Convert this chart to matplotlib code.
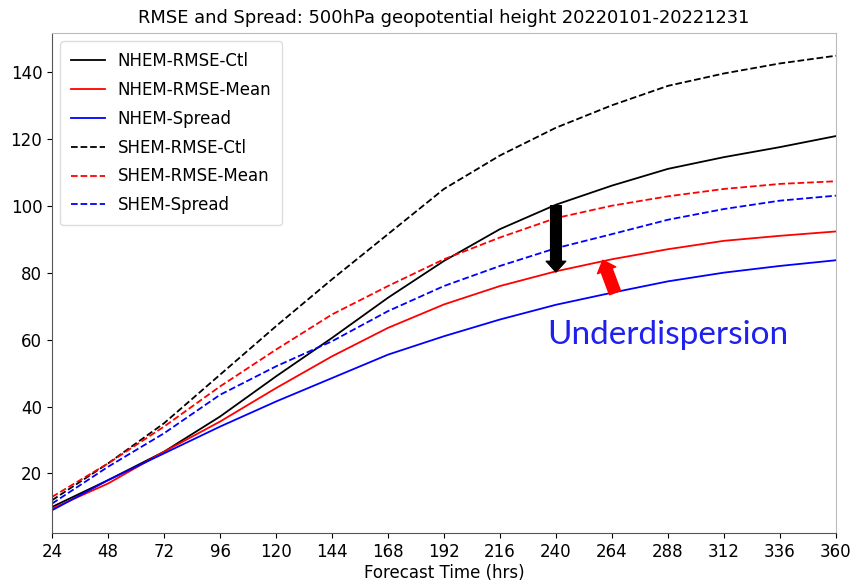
import matplotlib
matplotlib.use("Agg")
import matplotlib.pyplot as plt

# forecast lead times (hours)
hours = [24, 48, 72, 96, 120, 144, 168, 192, 216, 240, 264, 288, 312, 336, 360]

# northern hemisphere
nhem_rmse_ctl = [10, 18, 26.5, 37, 49, 60.5, 72.5, 83.5, 93, 100.3, 106, 111, 114.5, 117.5, 120.8]
nhem_rmse_mean = [9.5, 17, 26.5, 35.5, 45.5, 55, 63.5, 70.5, 76, 80.4, 84, 87, 89.5, 91, 92.3]
nhem_spread = [9, 18, 26, 34, 41.5, 48.5, 55.5, 61, 66, 70.4, 74, 77.4, 80, 82, 83.7]

# southern hemisphere
shem_rmse_ctl = [12, 23, 35, 49.5, 64, 78, 91.5, 105, 115, 123.3, 130, 135.8, 139.5, 142.5, 144.8]
shem_rmse_mean = [13, 23, 34, 46, 57, 67.5, 76, 84, 90.5, 96.3, 100, 102.8, 105, 106.5, 107.3]
shem_spread = [11, 22, 32, 43.5, 52, 59.5, 68.5, 76, 82, 87.3, 91.5, 95.8, 99, 101.5, 103]

series = [
    ("NHEM-RMSE-Ctl", nhem_rmse_ctl, "black", "-"),
    ("NHEM-RMSE-Mean", nhem_rmse_mean, "red", "-"),
    ("NHEM-Spread", nhem_spread, "blue", "-"),
    ("SHEM-RMSE-Ctl", shem_rmse_ctl, "black", "--"),
    ("SHEM-RMSE-Mean", shem_rmse_mean, "red", "--"),
    ("SHEM-Spread", shem_spread, "blue", "--"),
]

fig = plt.figure(figsize=(8.53, 5.86), dpi=100)
ax = fig.add_axes([0.061, 0.0904, 0.919, 0.8533])

for name, vals, col, ls in series:
    ax.plot(hours, vals, color=col, linestyle=ls, linewidth=1.3, label=name)

ax.set_xlim(24, 360)
ax.set_xticks(hours)
ax.tick_params(labelsize=12)
ax.set_xlabel("Forecast Time (hrs)", fontsize=12, labelpad=2)
ax.set_title("RMSE and Spread: 500hPa geopotential height 20220101-20221231",
             fontsize=12.9, pad=7)

for s in ["top", "right"]:
    ax.spines[s].set_color("#bbbbbb")
for s in ["left", "bottom"]:
    ax.spines[s].set_color("#555555")

ax.legend(loc="upper left", fontsize=12, framealpha=1, edgecolor="#dddddd",
          labelspacing=0.65, borderpad=0.65)

# arrows: RMSE-Ctl to RMSE-Mean, and spread below
ax.annotate("", xy=(240, 80.2), xytext=(240, 100),
            arrowprops=dict(arrowstyle="simple,head_width=1.0,head_length=0.55,tail_width=0.55",
                            color="black", mutation_scale=14, shrinkA=0, shrinkB=0))
ax.annotate("", xy=(260.1, 83.7), xytext=(265.3, 74),
            arrowprops=dict(arrowstyle="simple,head_width=1.0,head_length=0.55,tail_width=0.6",
                            color="red", mutation_scale=14, shrinkA=0, shrinkB=0))

ax.text(288, 61.3, "Underdispersion", color="#2020ee", fontsize=24,
        family="Lato", ha="center", va="center")

fig.savefig("out.png", dpi=100)
